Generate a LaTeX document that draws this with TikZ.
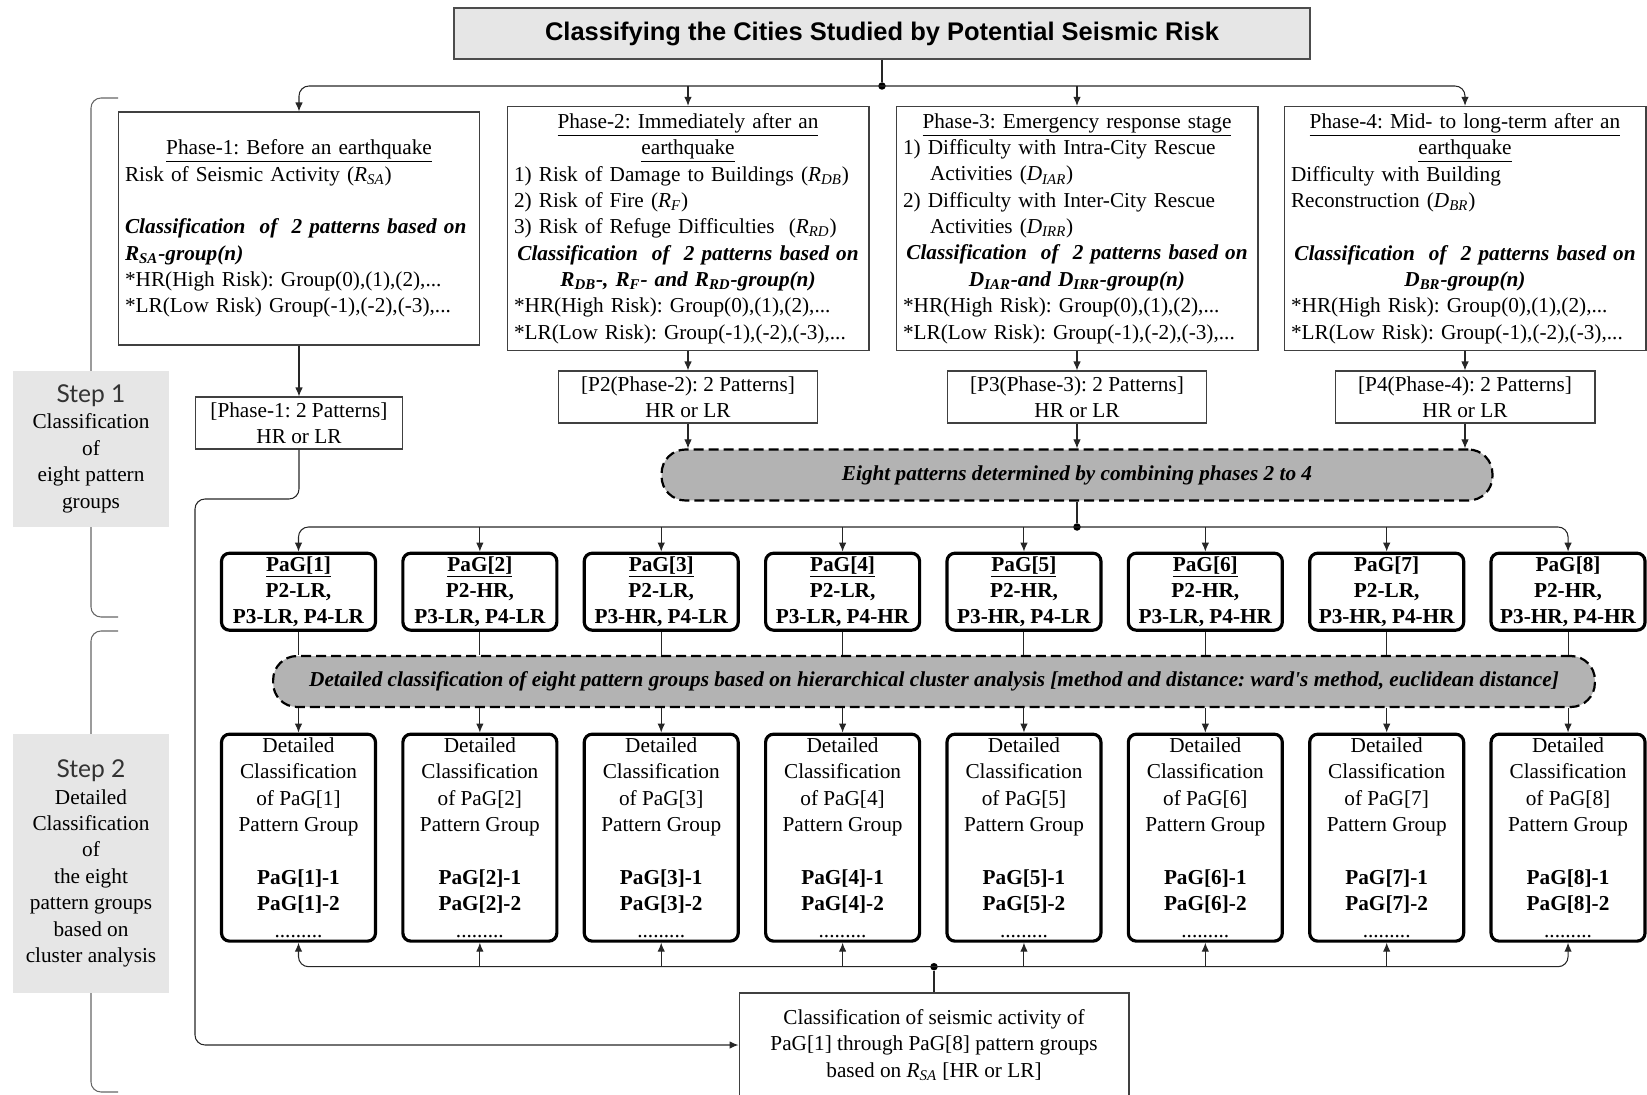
\documentclass[tikz,border=0pt]{standalone}
\usepackage{fontspec}
\setmainfont{Liberation Serif}
\newfontfamily\titlefont{Liberation Sans}
\newfontfamily\stepfont{Lato}
\usetikzlibrary{arrows.meta,positioning}

\definecolor{boxgray}{HTML}{E6E6E6}
\definecolor{pillgray}{HTML}{B3B3B3}

\newcommand{\basefont}{\fontsize{12.1}{15}\selectfont\frenchspacing}
\newcommand{\vsub}[2]{\textit{#1}\textsubscript{\textit{#2}}}
\newcommand{\ctrline}[1]{\makebox[\linewidth]{#1}}
\newcommand{\bitx}[1]{\textbf{\textit{#1}}}
\newcommand{\steptag}[1]{{\stepfont\fontsize{14}{15}\selectfont\color{black!80}#1}}

\tikzset{
  titlebox/.style={draw=black!70,line width=0.8pt,fill=boxgray,minimum width=17.12cm,minimum height=1.02cm,font=\titlefont\bfseries\fontsize{14.5}{17}\selectfont},
  phase/.style={draw=black!75,line width=0.6pt,text width=6.96cm,minimum height=4.66cm,inner sep=0.14cm,align=left,font=\basefont},
  pattern/.style={draw=black!75,line width=0.6pt,minimum height=1.04cm,inner sep=1pt,align=center,font=\basefont},
  pill/.style={draw,dash pattern=on 0.2cm off 0.1cm,line width=1.25pt,fill=pillgray,rounded corners=0.48cm,minimum height=1.02cm,font=\basefont\bfseries\itshape},
  pag/.style={draw,line width=1.8pt,rounded corners=0.16cm,minimum width=3.08cm,minimum height=1.54cm,inner sep=1pt,align=center,font=\basefont\bfseries},
  detbox/.style={pag,minimum height=4.14cm,font=\basefont},
  stepbox/.style={fill=boxgray,minimum width=3.13cm,inner sep=0pt,align=center,font=\basefont},
  dot/.style={circle,fill=black,inner sep=0pt,minimum size=0.15cm},
  arr/.style={->,draw=black!85,line width=0.6pt},
  ln/.style={draw=black!85,line width=0.6pt},
  brk/.style={draw=black!60,line width=0.6pt,rounded corners=0.2cm}
}

\begin{document}
\begin{tikzpicture}[x=0.02cm,y=-0.02cm,on grid,node distance=3.628cm,>={Latex[length=1.8mm,width=1.5mm]}]
  \useasboundingbox (0,0) rectangle (1647,1095);

  % brackets of the two steps
  \draw[brk] (118,98) -| (91,617) -- (118,617);
  \draw[brk] (118,631) -| (91,1092) -- (118,1092);
  \node[stepbox,minimum height=3.12cm] (s1) at (91,448.7) {\steptag{Step 1}\\Classification\\of\\eight pattern\\groups};
  \node[stepbox,minimum height=5.18cm] (s2) at (91,863.5) {\steptag{Step 2}\\Detailed\\Classification\\of\\the eight\\pattern groups\\based on\\cluster analysis};

  \node[titlebox] (title) at (882,33.5) {Classifying the Cities Studied by Potential Seismic Risk};
  \node[dot] (j1) at (882,86) {};

  % phases
  \node[phase] (ph1) at (299,228.5) {\ctrline{\underline{Phase-1: Before an earthquake}}\\
    Risk of Seismic Activity (\vsub{R}{SA})\\
    \mbox{}\\
    \mbox{\bitx{Classification\ \ of\ \ 2 patterns based on}}\\
    \bitx{\vsub{R}{SA}-group(n)}\\
    {*}HR(High Risk): Group(0),(1),(2),...\\
    {*}LR(Low Risk) Group(-1),(-2),(-3),...};
  \node[phase] (ph2) at (688,228.5) {\ctrline{\underline{Phase-2: Immediately after an}}\\
    \ctrline{\underline{earthquake}}\\
    1) Risk of Damage to Buildings (\vsub{R}{DB})\\
    2) Risk of Fire (\vsub{R}{F})\\
    3) Risk of Refuge Difficulties\ \ (\vsub{R}{RD})\\
    \ctrline{\bitx{Classification\ \ of\ \ 2 patterns based on}}\\
    \ctrline{\bitx{\vsub{R}{DB}-, \vsub{R}{F}- and \vsub{R}{RD}-group(n)}}\\
    {*}HR(High Risk): Group(0),(1),(2),...\\
    {*}LR(Low Risk): Group(-1),(-2),(-3),...};
  \node[phase] (ph3) at (1077,228.5) {\ctrline{\underline{Phase-3: Emergency response stage}}\\
    1) Difficulty with Intra-City Rescue\\
    \hspace*{0.54cm}Activities (\vsub{D}{IAR})\\
    2) Difficulty with Inter-City Rescue\\
    \hspace*{0.54cm}Activities (\vsub{D}{IRR})\\
    \ctrline{\bitx{Classification\ \ of\ \ 2 patterns based on}}\\
    \ctrline{\bitx{\vsub{D}{IAR}-and \vsub{D}{IRR}-group(n)}}\\
    {*}HR(High Risk): Group(0),(1),(2),...\\
    {*}LR(Low Risk): Group(-1),(-2),(-3),...};
  \node[phase] (ph4) at (1465,228.5) {\ctrline{\underline{Phase-4: Mid- to long-term after an}}\\
    \ctrline{\underline{earthquake}}\\
    Difficulty with Building\\
    Reconstruction (\vsub{D}{BR})\\
    \mbox{}\\
    \ctrline{\bitx{Classification\ \ of\ \ 2 patterns based on}}\\
    \ctrline{\bitx{\vsub{D}{BR}-group(n)}}\\
    {*}HR(High Risk): Group(0),(1),(2),...\\
    {*}LR(Low Risk): Group(-1),(-2),(-3),...};

  \node[pattern,minimum width=4.14cm] (pt1) at (299,423) {[Phase-1: 2 Patterns]\\HR or LR};
  \node[pattern,minimum width=5.18cm] (pt2) at (688,397) {[P2(Phase-2): 2 Patterns]\\HR or LR};
  \node[pattern,minimum width=5.18cm] (pt3) at (1077,397) {[P3(Phase-3): 2 Patterns]\\HR or LR};
  \node[pattern,minimum width=5.2cm] (pt4) at (1465,397) {[P4(Phase-4): 2 Patterns]\\HR or LR};

  \node[pill,minimum width=16.62cm] (eight) at (1077,475) {Eight patterns determined by combining phases 2 to 4};
  \node[dot] (j2) at (1077,527) {};

  % pattern groups
  \node[pag] (pag1) at (298.5,591.7) {\underline{PaG[1]}\\P2-LR,\\P3-LR, P4-LR};
  \node[pag] (pag2) [right=of pag1] {\underline{PaG[2]}\\P2-HR,\\P3-LR, P4-LR};
  \node[pag] (pag3) [right=of pag2] {\underline{PaG[3]}\\P2-LR,\\P3-HR, P4-LR};
  \node[pag] (pag4) [right=of pag3] {\underline{PaG[4]}\\P2-LR,\\P3-LR, P4-HR};
  \node[pag] (pag5) [right=of pag4] {\underline{PaG[5]}\\P2-HR,\\P3-HR, P4-LR};
  \node[pag] (pag6) [right=of pag5] {\underline{PaG[6]}\\P2-HR,\\P3-LR, P4-HR};
  \node[pag] (pag7) [right=of pag6] {PaG[7]\\P2-LR,\\P3-HR, P4-HR};
  \node[pag] (pag8) [right=of pag7] {PaG[8]\\P2-HR,\\P3-HR, P4-HR};

  \node[pill,minimum width=26.44cm] (detail) at (934,681.5) {Detailed classification of eight pattern groups based on hierarchical cluster analysis [method and distance: ward\textquotesingle s method, euclidean distance]};

  \node[detbox] (det1) [below=4.92cm of pag1] {Detailed\\Classification\\of PaG[1]\\Pattern Group\\\mbox{}\\\textbf{PaG[1]-1}\\\textbf{PaG[1]-2}\\.........};
  \node[detbox] (det2) [right=of det1] {Detailed\\Classification\\of PaG[2]\\Pattern Group\\\mbox{}\\\textbf{PaG[2]-1}\\\textbf{PaG[2]-2}\\.........};
  \node[detbox] (det3) [right=of det2] {Detailed\\Classification\\of PaG[3]\\Pattern Group\\\mbox{}\\\textbf{PaG[3]-1}\\\textbf{PaG[3]-2}\\.........};
  \node[detbox] (det4) [right=of det3] {Detailed\\Classification\\of PaG[4]\\Pattern Group\\\mbox{}\\\textbf{PaG[4]-1}\\\textbf{PaG[4]-2}\\.........};
  \node[detbox] (det5) [right=of det4] {Detailed\\Classification\\of PaG[5]\\Pattern Group\\\mbox{}\\\textbf{PaG[5]-1}\\\textbf{PaG[5]-2}\\.........};
  \node[detbox] (det6) [right=of det5] {Detailed\\Classification\\of PaG[6]\\Pattern Group\\\mbox{}\\\textbf{PaG[6]-1}\\\textbf{PaG[6]-2}\\.........};
  \node[detbox] (det7) [right=of det6] {Detailed\\Classification\\of PaG[7]\\Pattern Group\\\mbox{}\\\textbf{PaG[7]-1}\\\textbf{PaG[7]-2}\\.........};
  \node[detbox] (det8) [right=of det7] {Detailed\\Classification\\of PaG[8]\\Pattern Group\\\mbox{}\\\textbf{PaG[8]-1}\\\textbf{PaG[8]-2}\\.........};

  \node[dot] (j3) at (934,966.7) {};
  \node[pattern,minimum width=7.8cm,minimum height=2.08cm] (sa) at (934,1045) {Classification of seismic activity of\\PaG[1] through PaG[8] pattern groups\\based on \vsub{R}{SA} [HR or LR]};
  \coordinate (bend) at (195,499);

  % connectors
  \draw[ln] (title) -- (j1);
  \draw[arr,rounded corners=0.2cm] (j1.center) -| (ph1.north);
  \draw[arr,rounded corners=0.2cm] (j1.center) -| (ph4.north);
  \draw[arr] (ph2.north |- j1) -- (ph2.north);
  \draw[arr] (ph3.north |- j1) -- (ph3.north);
  \draw[arr] (ph1) -- (pt1);
  \draw[arr] (ph2) -- (pt2);
  \draw[arr] (ph3) -- (pt3);
  \draw[arr] (ph4) -- (pt4);
  \draw[arr] (pt2) -- (pt2 |- eight.north);
  \draw[arr] (pt3) -- (pt3 |- eight.north);
  \draw[arr] (pt4) -- (pt4 |- eight.north);
  \draw[arr,rounded corners=0.2cm] (pt1.south) |- (bend) |- (sa.west);
  \draw[ln] (eight) -- (j2);
  \draw[arr,rounded corners=0.2cm] (j2.center) -| (pag1.north);
  \draw[arr,rounded corners=0.2cm] (j2.center) -| (pag8.north);
  \foreach \k in {2,...,7}
    \draw[arr] (pag\k.north |- j2) -- (pag\k.north);
  \foreach \k in {1,...,8} {
    \draw[ln] (pag\k.south) -- (pag\k.south |- detail.north);
    \draw[arr] (pag\k.south |- detail.south) -- (det\k.north);
  }
  \draw[ln] (sa) -- (j3);
  \draw[arr,rounded corners=0.2cm] (j3.center) -| (det1.south);
  \draw[arr,rounded corners=0.2cm] (j3.center) -| (det8.south);
  \foreach \k in {2,...,7}
    \draw[arr] (det\k.south |- j3) -- (det\k.south);
\end{tikzpicture}
\end{document}
